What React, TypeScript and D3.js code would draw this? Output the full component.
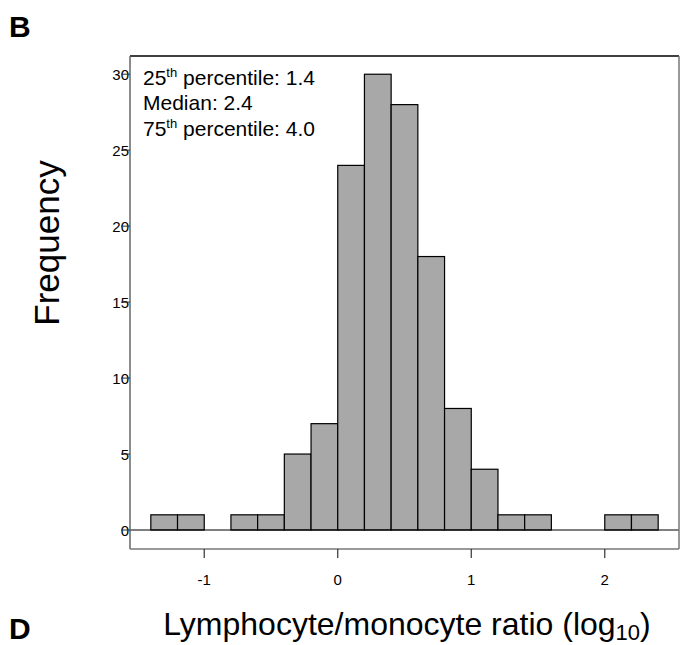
import React from "react";
import * as d3 from "d3";

const binStarts = [-1.4, -1.2, -1.0, -0.8, -0.6, -0.4, -0.2, 0.0, 0.2, 0.4, 0.6, 0.8, 1.0, 1.2, 1.4, 1.6, 1.8, 2.0, 2.2];
const counts = [1, 1, 0, 1, 1, 5, 7, 24, 30, 28, 18, 8, 4, 1, 1, 0, 0, 1, 1];
const binWidth = 0.2;
const xTicks = [-1, 0, 1, 2];
const yTicks = [0, 5, 10, 15, 20, 25, 30];
const annotations = [
  { pre: "25", sup: "th", post: " percentile: 1.4" },
  { pre: "Median: 2.4", sup: "", post: "" },
  { pre: "75", sup: "th", post: " percentile: 4.0" },
];

export default function App() {
  const W = 691, H = 645;
  const left = 130, right = 679, top = 56, bottom = 549;
  const x = d3.scaleLinear().domain([-1.556, 2.556]).range([left, right]);
  const y = d3.scaleLinear().domain([-1.25, 31.2]).range([bottom, top]);
  const font = "Arial, 'Liberation Sans', sans-serif";
  return (
    <svg width={W} height={H} style={{ position: "absolute", left: 0, top: 0 }} fontFamily={font}>
      <rect x={0} y={0} width={W} height={H} fill="white" />
      <text x={9} y={37} fontSize={30} fontWeight="bold">B</text>
      <text x={9} y={639} fontSize={30} fontWeight="bold">D</text>
      {binStarts.map((b, i) =>
        counts[i] > 0 ? (
          <rect key={i} x={x(b)} y={y(counts[i])} width={x(b + binWidth) - x(b)} height={y(0) - y(counts[i])}
            fill="#a8a8a8" stroke="#000" strokeWidth={1.2} />
        ) : null
      )}
      <line x1={left} x2={right} y1={y(0)} y2={y(0)} stroke="#000" strokeWidth={1.2} />
      <line x1={left} x2={right} y1={top} y2={top} stroke="#000" strokeWidth={1.5} />
      <line x1={left} x2={left} y1={top} y2={bottom} stroke="#666" strokeWidth={1.5} />
      <line x1={right} x2={right} y1={top} y2={bottom} stroke="#777" strokeWidth={1.5} />
      <line x1={left} x2={right} y1={bottom} y2={bottom} stroke="#777" strokeWidth={1.5} />
      {yTicks.map((t) => (
        <g key={t}>
          <text x={129} y={y(t)} fontSize={15} textAnchor="end" dominantBaseline="central">{t}</text>
          <line x1={121} x2={left} y1={y(t)} y2={y(t)} stroke="#333" strokeWidth={1} />
        </g>
      ))}
      {xTicks.map((t) => (
        <g key={t}>
          <line x1={x(t)} x2={x(t)} y1={bottom} y2={bottom + 9} stroke="#333" strokeWidth={1.2} />
          <text x={x(t)} y={579.5} fontSize={15} textAnchor="middle" dominantBaseline="central">{t}</text>
        </g>
      ))}
      {annotations.map((a, i) => (
        <text key={i} x={143} y={84.5 + i * 25.5} fontSize={21}>
          {a.pre}
          {a.sup ? <tspan fontSize={13} dy={-8}>{a.sup}</tspan> : null}
          {a.post ? <tspan dy={a.sup ? 8 : 0}>{a.post}</tspan> : null}
        </text>
      ))}
      <text transform={`translate(59, 243) rotate(-90)`} fontSize={35} textAnchor="middle">Frequency</text>
      <text x={407} y={635} fontSize={32} textAnchor="middle">
        Lymphocyte/monocyte ratio (log<tspan fontSize={22} dy={5}>10</tspan><tspan dy={-5}>)</tspan>
      </text>
    </svg>
  );
}
